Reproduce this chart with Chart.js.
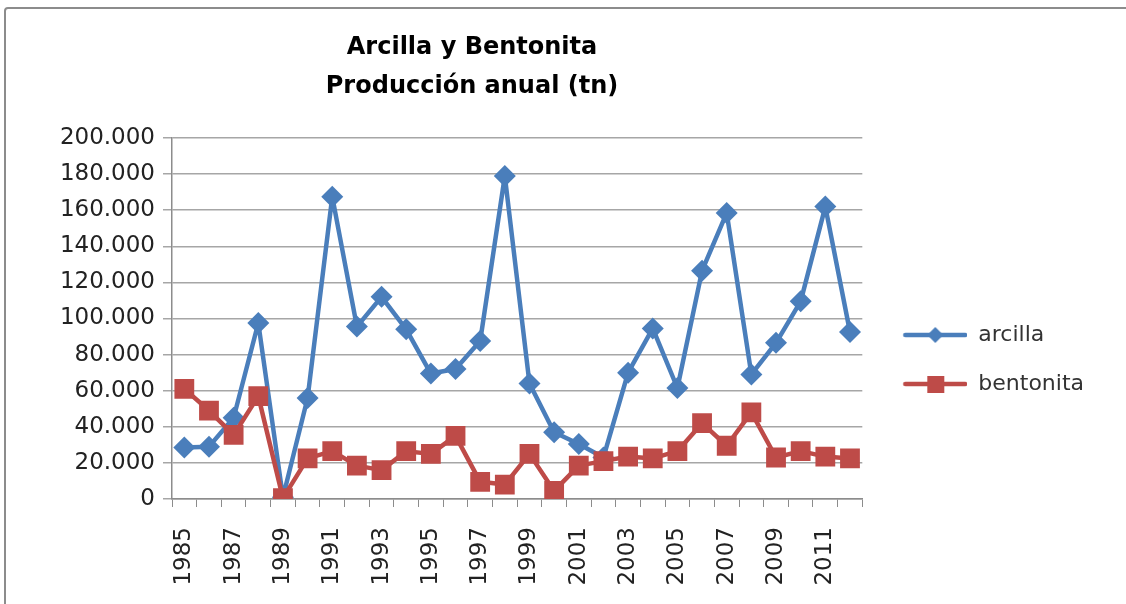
<!DOCTYPE html>
<html>
<head>
<meta charset="utf-8">
<title>Arcilla y Bentonita</title>
<script src="https://cdn.jsdelivr.net/npm/chart.js@4"></script>
<style>
    body { margin: 0; background: #fff; overflow: hidden; }
    #wrap { position: relative; width: 1126px; height: 604px; }
    #frame {
        position: absolute; left: 4px; top: 7px; width: 1130px; height: 610px;
        border: 2px solid #8c8c8c; border-radius: 4px;
    }
    #title {
        position: absolute; left: 222px; top: 27px; width: 500px;
        text-align: center; font: bold 24px "DejaVu Sans", sans-serif;
        line-height: 39px; color: #000;
    }
    canvas { position: absolute; left: 0; top: 0; }
</style>
</head>
<body>
<div id="wrap">
    <div id="frame"></div>
    <canvas id="chart" width="1126" height="604"></canvas>
    <div id="title">Arcilla y Bentonita<br>Producción anual (tn)</div>
</div>
<script>
// years on the category axis
const years = ['1985', '1986', '1987', '1988', '1989', '1990', '1991', '1992', '1993', '1994',
    '1995', '1996', '1997', '1998', '1999', '2000', '2001', '2002', '2003', '2004',
    '2005', '2006', '2007', '2008', '2009', '2010', '2011', '2012'];

// production in tn
const arcilla = [28500, 29000, 45000, 97500, 1000, 56000, 167500, 95500, 112000, 94000,
    69500, 72000, 87500, 179000, 64000, 37000, 30500, 23000, 70000, 94500,
    61500, 126500, 158500, 69000, 86500, 109500, 162000, 92500];

const bentonita = [61000, 49000, 35500, 57000, 500, 22500, 26500, 18500, 16000, 26500,
    25000, 35000, 9500, 8000, 25000, 4500, 18500, 21000, 23500, 22500,
    26500, 42000, 29500, 48000, 23000, 26500, 23500, 22500];

const yTicks = [0, 20000, 40000, 60000, 80000, 100000, 120000, 140000, 160000, 180000, 200000];

const blue = '#4a7ebb';
const red = '#be4b48';

function fmt(v) {
    return String(v).replace(/\B(?=(\d{3})+(?!\d))/g, '.');
}

// little line + marker picture for the legend, like the excel one
function legendIcon(color, marker) {
    const c = document.createElement('canvas');
    c.width = 78;
    c.height = 24;
    const g = c.getContext('2d');
    g.strokeStyle = color;
    g.lineWidth = 4.5;
    g.lineCap = 'round';
    g.beginPath();
    g.moveTo(16, 12);
    g.lineTo(76, 12);
    g.stroke();
    g.fillStyle = color;
    if (marker === 'diamond') {
        g.beginPath();
        g.moveTo(46, 4);
        g.lineTo(54, 12);
        g.lineTo(46, 20);
        g.lineTo(38, 12);
        g.closePath();
        g.fill();
    } else {
        g.fillRect(38, 4, 17, 17);
    }
    return c;
}

const icons = [legendIcon(blue, 'diamond'), legendIcon(red, 'square')];

new Chart(document.getElementById('chart'), {
    type: 'line',
    data: {
        labels: years,
        datasets: [
            {
                label: 'arcilla',
                data: arcilla,
                borderColor: blue,
                backgroundColor: blue,
                borderWidth: 4.5,
                borderJoinStyle: 'round',
                pointStyle: 'rectRot',
                pointRadius: 11,
                pointBorderWidth: 0,
                tension: 0,
                order: 1
            },
            {
                label: 'bentonita',
                data: bentonita,
                borderColor: red,
                backgroundColor: red,
                borderWidth: 4.5,
                borderJoinStyle: 'round',
                pointStyle: 'rect',
                pointRadius: 14,
                pointBorderWidth: 0,
                tension: 0,
                order: 0
            }
        ]
    },
    options: {
        responsive: false,
        animation: false,
        events: [],
        layout: {
            padding: { left: 0, top: 138, right: 32, bottom: 0 }
        },
        scales: {
            x: {
                offset: true,
                grid: {
                    offset: true,
                    drawOnChartArea: false,
                    color: '#8c8c8c',
                    tickLength: 8
                },
                border: { color: '#8c8c8c', width: 1.5 },
                ticks: {
                    autoSkip: false,
                    minRotation: 90,
                    maxRotation: 90,
                    padding: 20,
                    color: '#222',
                    font: { family: 'DejaVu Sans', size: 23 },
                    callback: function(value, index) {
                        return index % 2 === 0 ? years[index] : '';
                    }
                },
                afterFit: function(axis) { axis.height = 105; }
            },
            y: {
                min: 0,
                max: 200000,
                afterBuildTicks: function(axis) {
                    axis.ticks = yTicks.map(v => ({ value: v }));
                },
                grid: {
                    color: '#a6a6a6',
                    lineWidth: 1.5,
                    tickLength: 9
                },
                border: { color: '#8c8c8c', width: 1.5 },
                ticks: {
                    padding: 8,
                    color: '#222',
                    font: { family: 'DejaVu Sans', size: 23 },
                    callback: function(value) { return fmt(value); }
                },
                afterFit: function(axis) { axis.width = 172; }
            }
        },
        plugins: {
            tooltip: { enabled: false },
            legend: {
                position: 'right',
                fullSize: false,
                // empty title only pushes the two items down to where excel had them
                title: {
                    display: true,
                    text: '',
                    font: { size: 1 },
                    padding: { top: 80.8, bottom: 0 }
                },
                labels: {
                    usePointStyle: true,
                    pointStyleWidth: 78,
                    padding: 27,
                    color: '#333',
                    font: { family: 'DejaVu Sans', size: 22 },
                    generateLabels: function(chart) {
                        return chart.data.datasets.map((ds, i) => ({
                            text: ds.label,
                            fillStyle: ds.borderColor,
                            strokeStyle: ds.borderColor,
                            lineWidth: 0,
                            pointStyle: icons[i],
                            fontColor: '#333',
                            datasetIndex: i,
                            hidden: false
                        }));
                    }
                }
            }
        }
    }
});
</script>
</body>
</html>
